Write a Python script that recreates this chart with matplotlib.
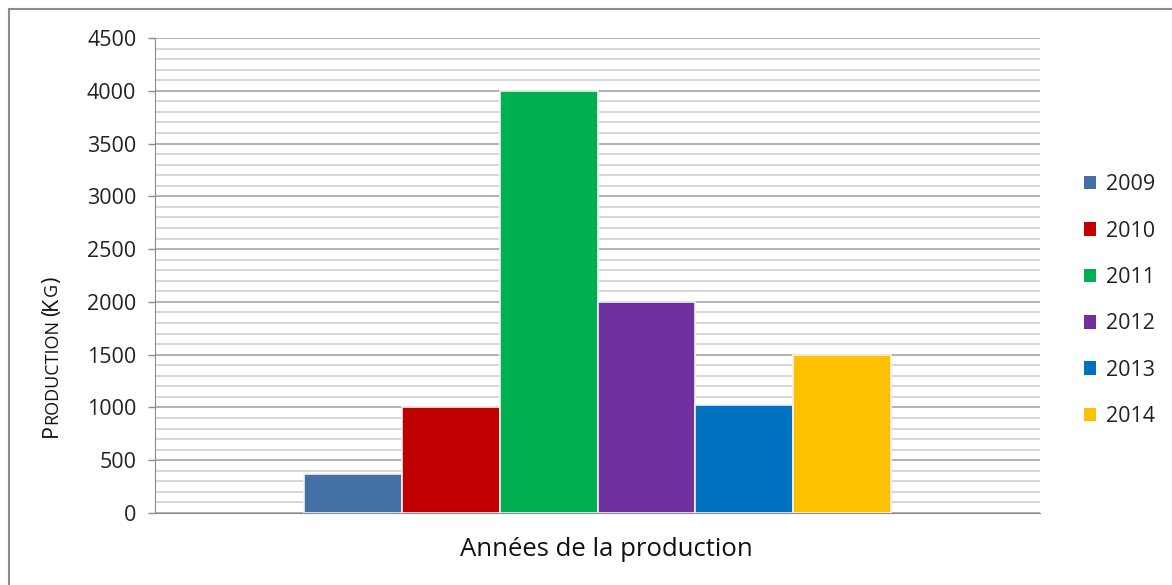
import numpy as np
import matplotlib.pyplot as plt
from matplotlib.patches import Rectangle, Patch
from matplotlib.ticker import MultipleLocator

plt.rcParams['font.family'] = ['Open Sans', 'DejaVu Sans']

annees = ['2009', '2010', '2011', '2012', '2013', '2014']
production = [368, 1000, 4000, 2000, 1022, 1500]
couleurs = ['#4470A6', '#C00000', '#00B050', '#7030A0', '#0070C0', '#FFC000']

fig = plt.figure(figsize=(11.72, 5.85), dpi=100)
ax = fig.add_axes([0.1323, 0.1231, 0.7551, 0.8120])

# cadre autour du graphique
fig.patches.append(Rectangle((0.0077, -0.05), 1.1, 0.9846 + 0.05, transform=fig.transFigure,
                             fill=False, edgecolor='#8c8c8c', linewidth=1.5, zorder=0))

n = len(annees)
w = 0.664 / n
x = (np.arange(n) - (n - 1) / 2) * w
for i in range(n):
    ax.bar(x[i], production[i], width=w, color=couleurs[i], edgecolor='#f2f2f2',
           linewidth=1.2, zorder=3)

ax.set_xlim(-0.5, 0.5)
ax.set_ylim(0, 4500)
ax.yaxis.set_major_locator(MultipleLocator(500))
ax.yaxis.set_minor_locator(MultipleLocator(100))
ax.grid(True, which='major', axis='y', color='#a6a6a6', linewidth=1.2, zorder=1)
ax.grid(True, which='minor', axis='y', color='#d0d0d0', linewidth=1.2, zorder=1)
ax.set_xticks([])
ax.tick_params(axis='y', which='major', length=5, width=1, color='#8c8c8c',
               labelsize=15.5, labelcolor='#222222', pad=8.5)
ax.tick_params(axis='y', which='minor', length=0)
for s in ['top', 'right']:
    ax.spines[s].set_visible(False)
ax.spines['left'].set_color('#8c8c8c')
ax.spines['bottom'].set_color('#8c8c8c')

fig.text(0.517, 0.061, 'Années de la production', ha='center', va='center',
         fontsize=18.5, color='#111111')

# titre vertical en petites capitales : largeur de chaque morceau mesurée à plat
morceaux = [('P', 15.5), ('RODUCTION', 13), ('(', 15.5), ('K', 15.5), ('G', 13), (')', 15.5)]
r = fig.canvas.get_renderer()
px, py = 57, 437
for txt, fs in morceaux:
    tmp = fig.text(0, 0, txt, fontsize=fs)
    larg = tmp.get_window_extent(renderer=r).width
    tmp.remove()
    fig.text(px / 1172, 1 - py / 585, txt, fontsize=fs, rotation=90,
             rotation_mode='anchor', ha='left', va='baseline', color='#111111')
    py -= larg + (3 if txt == 'RODUCTION' else 0)

poignees = [Patch(facecolor=c, edgecolor='none') for c in couleurs]
fig.legend(poignees, annees, loc='center left', bbox_to_anchor=(0.908, 0.486),
           frameon=False, fontsize=15.5, handlelength=0.6, handleheight=0.6,
           handletextpad=0.45, labelspacing=1.18, labelcolor='#222222')

fig.savefig('out.png', dpi=100)
